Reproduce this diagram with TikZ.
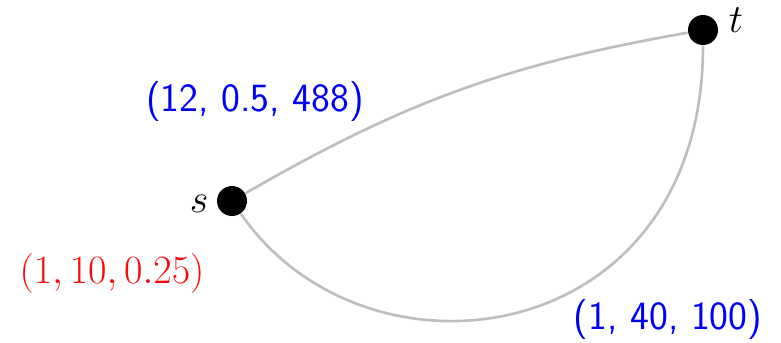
\documentclass[tikz,border=0pt]{standalone}
\usepackage{fix-cm}
\usepackage{amsmath}
\usepackage{xcolor}
\usetikzlibrary{positioning}

\begin{document}
\begin{tikzpicture}[thick]
        % Colors
        \definecolor{edgegray}{RGB}{190, 190, 190}
        \definecolor{weightblue}{RGB}{0, 0, 245}
        \definecolor{weightred}{RGB}{250, 10, 10}
        \tikzset{
            vertex/.style={circle, fill=black, inner sep=0pt, minimum size=0.6cm},
            edge/.style={color=edgegray, line width=1.5pt},
            big/.style={font=\fontsize{22.8}{27}\selectfont},
            weight/.style={font=\fontsize{22.8}{27}\selectfont\sffamily, text=weightblue}
        }
        \useasboundingbox (0,0) rectangle (15.62,-6.84);

        % Nodes
        \node[vertex] (s) at (4.64,-4.02) {};
        \node[vertex] (t) at (14.06,-0.60) {};
        \node[big] (slabel) at (3.98,-4.08) {$s$};
        \node[big] (tlabel) at (14.72,-0.40) {$t$};

        % Edges
        \draw[edge] (s) to[bend left=10] (t);
        \draw[edge] (s) .. controls +(2.7,-3.9) and +(0,-6.4) .. (t);

        % Weights
        \node[weight] (wtop) at (5.10,-2.04) {(12, 0.5, 488)};
        \node[weight] (wbottom) at (13.36,-6.38) {(1, 40, 100)};
        \node[big, text=weightred] (wred) at (2.24,-5.46) {$(1,10,0.25)$};

    \end{tikzpicture}
\end{document}
